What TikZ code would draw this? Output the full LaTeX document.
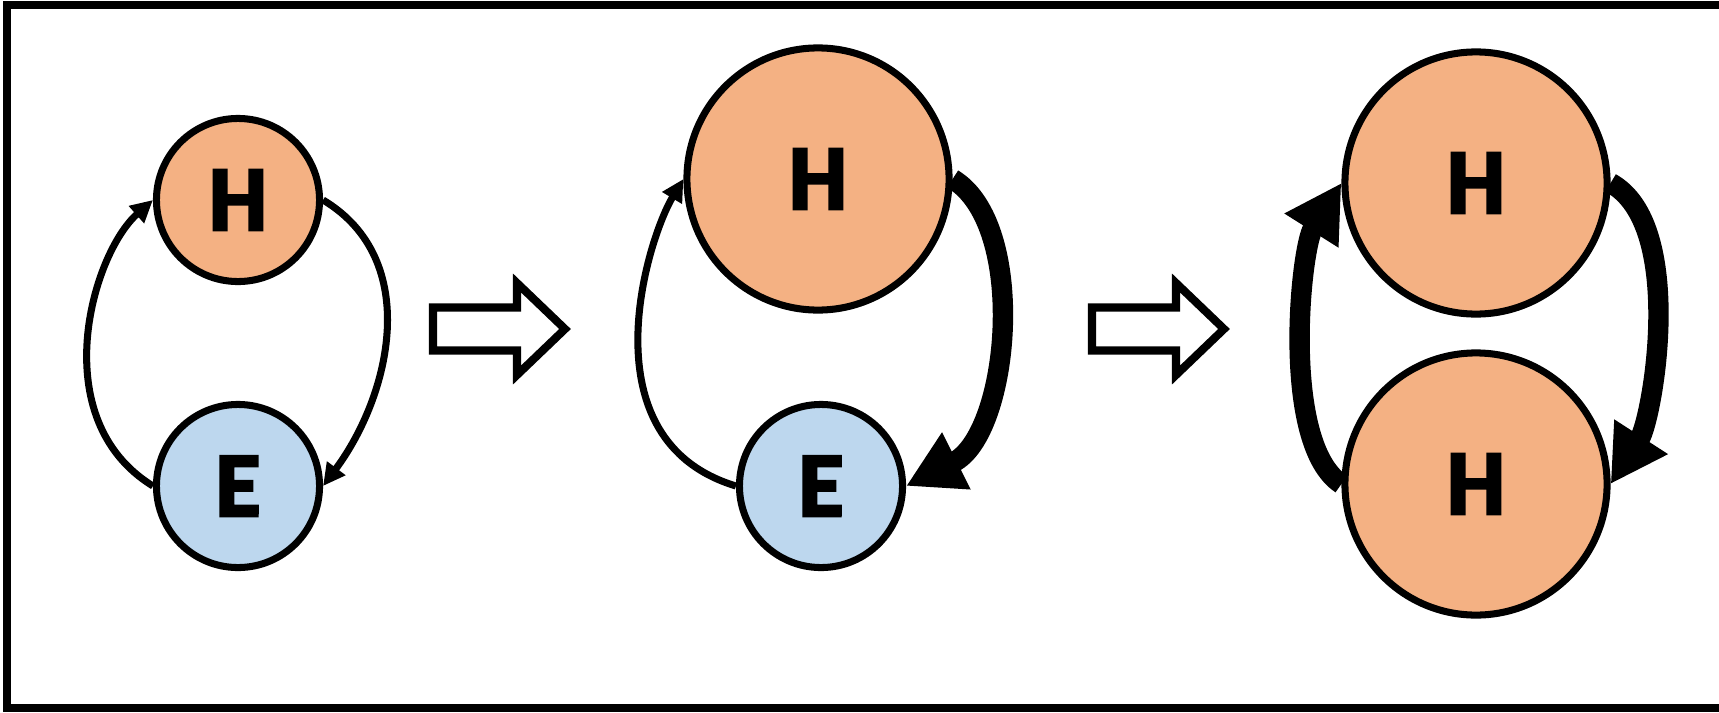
\documentclass[tikz,border=0pt]{standalone}
\usepackage{fontspec}
\setmainfont{Carlito}
\newfontfamily\cellfont{Carlito}[BoldFeatures={FakeBold=3.5}]
\usetikzlibrary{arrows.meta}
\definecolor{hostfill}{HTML}{F4B183}
\definecolor{envfill}{HTML}{BDD7EE}

\begin{document}
\begin{tikzpicture}[x=0.01cm,y=-0.01cm,
  cell/.style={circle,draw=black,line width=2pt,inner sep=0pt,
    font=\cellfont\bfseries\fontsize{26}{30}\selectfont},
  smallcell/.style={cell,minimum size=1.63cm},
  bigcell/.style={cell,minimum size=2.62cm},
  weaklink/.style={line width=2pt,-{Triangle[length=6.3pt,width=6.2pt]}},
  stronglink/.style={line width=5.8pt,-{Triangle[length=16pt,width=17pt]}},
  stagearrow/.style={draw=black,fill=white,line width=2.3pt,line join=miter}]

\newcommand{\stagestep}[2]{
  \draw[stagearrow] (#1,#2) -- ++(84,0) -- ++(0,-24.5) -- ++(48,46)
    -- ++(-48,46) -- ++(0,-24.5) -- ++(-84,0) -- cycle;
}

\useasboundingbox (0,0) rectangle (1719,712);
\clip (0,0) rectangle (1719,712);

% frame
\draw[line width=2.3pt] (7,5) rectangle (1760,708);

% first stage
\node[smallcell,fill=hostfill] (h1) at (238,200) {H};
\node[smallcell,fill=envfill] (e1) at (238,486) {E};
\draw[weaklink] (e1.west) .. controls +(-109,-67) and +(-61,54) .. (h1.west);
\draw[weaklink] (h1.east) .. controls +(100,60) and +(67,-90) .. (e1.east);

\stagestep{433}{307.5}

% second stage
\node[bigcell,fill=hostfill] (h2) at (818,179) {H};
\node[smallcell,fill=envfill] (e2) at (821,486) {E};
\draw[weaklink] (e2.west) .. controls +(-152,-46) and +(-36,60) .. (h2.west);
\draw[stronglink] (h2.east) .. controls +(76,46) and +(104,-52) .. (e2.east);

\stagestep{1092}{307.5}

% third stage
\node[bigcell,fill=hostfill] (h3) at (1476,183) {H};
\node[bigcell,fill=hostfill] (h4) at (1476,484) {H};
\draw[stronglink] (h4.west) .. controls +(-61,-40) and +(-41,65) .. (h3.west);
\draw[stronglink] (h3.east) .. controls +(76,42) and +(42,-65) .. (h4.east);

\end{tikzpicture}
\end{document}
